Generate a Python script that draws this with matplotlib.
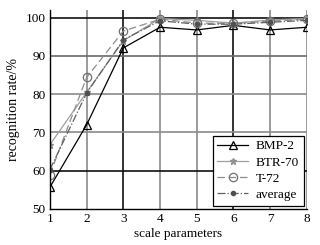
import matplotlib
matplotlib.use("Agg")
import matplotlib.pyplot as plt

plt.rcParams['font.family'] = ['Liberation Serif', 'DejaVu Serif']

x = [1, 2, 3, 4, 5, 6, 7, 8]
bmp2 = [55.7, 72.0, 92.1, 97.5, 96.8, 98.0, 96.8, 97.5]
btr70 = [66.8, 80.5, 94.0, 99.8, 99.3, 98.6, 99.4, 99.8]
t72 = [59.0, 84.4, 96.5, 99.6, 98.6, 98.5, 99.1, 99.6]
average = [60.3, 80.3, 94.2, 99.2, 98.3, 98.3, 98.8, 99.3]
xticks = [1, 2, 3, 4, 5, 6, 7, 8]
yticks = [50, 60, 70, 80, 90, 100]

fig = plt.figure(figsize=(3.2, 2.45), dpi=100)
ax = fig.add_axes([0.156, 0.147, 0.803, 0.812])

vcol = {2: '#8a8a8a', 3: '#111111', 4: '#8a8a8a', 5: '#8a8a8a', 6: '#111111', 7: '#8a8a8a', 8: '#8a8a8a'}
hcol = {60: '#111111', 70: '#8a8a8a', 80: '#8a8a8a', 90: '#6a6a6a', 100: '#111111'}
for xv, c in vcol.items():
    ax.axvline(xv, color=c, lw=1.2, zorder=0)
for yv, c in hcol.items():
    ax.axhline(yv, color=c, lw=1.2, zorder=0)

ax.plot(x, bmp2, color='black', lw=0.9, marker='^', ms=6, mfc='none', mec='black', mew=0.9, label='BMP-2')
ax.plot(x, btr70, color='#a0a0a0', lw=0.9, marker='*', ms=5, mfc='#909090', mec='#909090', label='BTR-70')
ax.plot(x, t72, color='#8c8c8c', lw=0.9, ls=(0, (6, 3)), marker='o', ms=6, mfc='none', mec='#707070', mew=0.9, label='T-72')
ax.plot(x, average, color='#606060', lw=0.9, ls='-.', marker='o', ms=3, mfc='#505050', mec='#505050', label='average')

ax.set_xlim(1, 8)
ax.set_ylim(50, 102)
ax.set_xticks(xticks)
ax.set_yticks(yticks)
ax.tick_params(length=0, labelsize=9.5, pad=3)
ax.spines['top'].set_visible(False)
ax.spines['right'].set_visible(False)
ax.spines['left'].set_linewidth(1.0)
ax.spines['bottom'].set_linewidth(1.0)
ax.set_xlabel('scale parameters', fontsize=9.5, labelpad=2)
ax.set_ylabel('recognition rate/%', fontsize=10, labelpad=4)

leg = ax.legend(loc='lower right', fontsize=9.5, frameon=True, fancybox=False,
                edgecolor='black', framealpha=1, handlelength=2.3, borderaxespad=0.25,
                labelspacing=0.3, handletextpad=0.6, borderpad=0.35)
leg.get_frame().set_linewidth(0.9)

fig.savefig('out.png', dpi=100)
